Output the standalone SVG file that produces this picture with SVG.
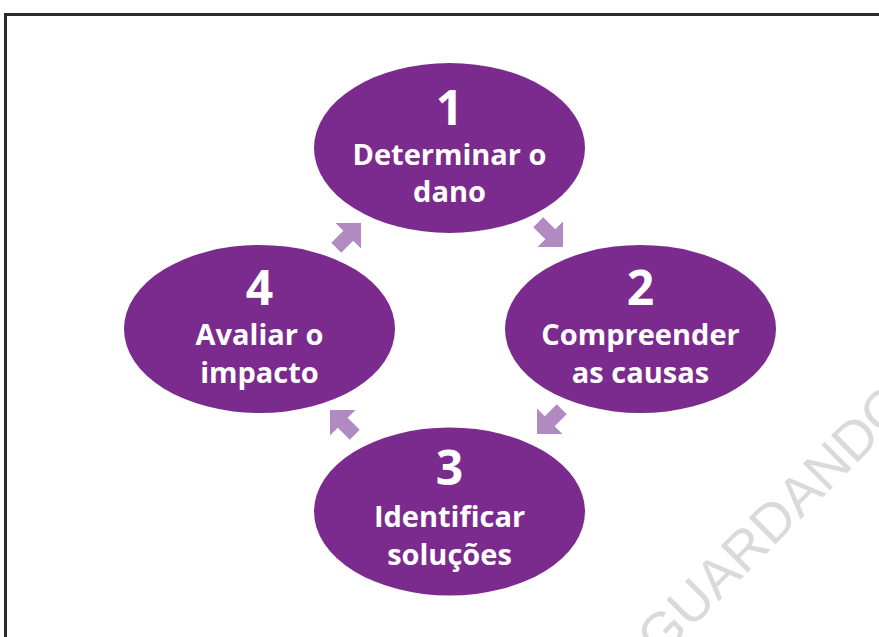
<svg xmlns="http://www.w3.org/2000/svg" width="879" height="637" viewBox="0 0 879 637">
<style>
.node ellipse{fill:#7B2B8D}
.num{font-family:"Open Sans","DejaVu Sans",sans-serif;font-weight:700;font-size:48px;fill:#fff;text-anchor:middle}
.lbl{font-family:"Open Sans","DejaVu Sans",sans-serif;font-weight:700;font-size:29px;fill:#fff;text-anchor:middle}
.arrow{fill:#B18AC2}
.wm{font-family:"Liberation Sans",Arial,sans-serif;font-size:55px;fill:#DADADA}
</style>
<defs>
<polygon id="arr" points="0,0 -18,-18 -18,-7 -35,-7 -35,7 -18,7 -18,18"/>
</defs>
<rect x="0" y="0" width="879" height="637" fill="#fff"/>
<rect x="5.5" y="14.5" width="950" height="700" fill="none" stroke="#2B2B2B" stroke-width="3"/>
<text class="wm" transform="translate(660,660) rotate(-45)">GUARDANDO</text>
<g id="connectors" class="arrow">
<use href="#arr" transform="translate(563,247) rotate(45)"/>
<use href="#arr" transform="translate(537,434) rotate(135)"/>
<use href="#arr" transform="translate(330,410) rotate(225)"/>
<use href="#arr" transform="translate(361,223) rotate(-45)"/>
</g>
<g id="node1" class="node">
<ellipse cx="449.5" cy="148" rx="135.5" ry="85"/>
<text class="num" x="449.5" y="125">1</text>
<text class="lbl" x="449.5" y="165">Determinar o</text>
<text class="lbl" x="449.5" y="202">dano</text>
</g>
<g id="node2" class="node">
<ellipse cx="640.5" cy="329" rx="135.5" ry="84"/>
<text class="num" x="640.5" y="305">2</text>
<text class="lbl" x="640.5" y="345">Compreender</text>
<text class="lbl" x="640.5" y="383">as causas</text>
</g>
<g id="node3" class="node">
<ellipse cx="449.5" cy="511.5" rx="135.5" ry="84"/>
<text class="num" x="449.5" y="485">3</text>
<text class="lbl" x="449.5" y="527">Identificar</text>
<text class="lbl" x="449.5" y="565">soluções</text>
</g>
<g id="node4" class="node">
<ellipse cx="259.5" cy="329" rx="135.5" ry="84"/>
<text class="num" x="259.5" y="305">4</text>
<text class="lbl" x="259.5" y="345">Avaliar o</text>
<text class="lbl" x="259.5" y="383">impacto</text>
</g>
</svg>
